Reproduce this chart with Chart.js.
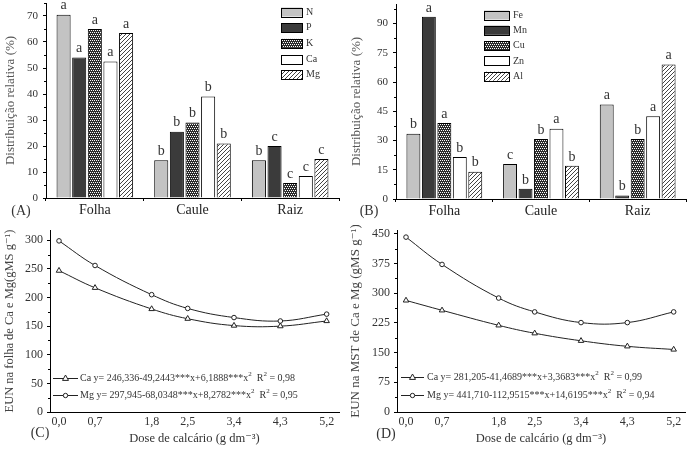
<!DOCTYPE html>
<html><head><meta charset="utf-8">
<script src="https://cdn.jsdelivr.net/npm/chart.js@4/dist/chart.umd.min.js"></script>
<style>
html,body{margin:0;padding:0;background:#fff;width:692px;height:451px;overflow:hidden}
.p{position:absolute}
canvas{display:block}
</style></head><body>
<div class="p" style="left:0;top:0"><canvas id="cA" width="346" height="225"></canvas></div>
<div class="p" style="left:346px;top:0"><canvas id="cB" width="346" height="225"></canvas></div>
<div class="p" style="left:0;top:225px"><canvas id="cC" width="346" height="226"></canvas></div>
<div class="p" style="left:346px;top:225px"><canvas id="cD" width="346" height="226"></canvas></div>
<script>
// ---------- DATA ----------
const categories = ['Folha', 'Caule', 'Raiz'];

// Panel A (macronutrients)
const macroNames = ['N', 'P', 'K', 'Ca', 'Mg'];
const valN  = [70.5, 14.5, 14.5];
const valP  = [54, 25.5, 20];
const valK  = [65, 29, 5.8];
const valCa = [52.5, 39, 8.5];
const valMg = [63.5, 21, 15];
const letN  = ['a', 'b', 'b'];
const letP  = ['a', 'b', 'c'];
const letK  = ['a', 'b', 'c'];
const letCa = ['a', 'b', 'c'];
const letMg = ['a', 'b', 'c'];
const ticksA = [0, 10, 20, 30, 40, 50, 60, 70];

// Panel B (micronutrients + Al)
const microNames = ['Fe', 'Mn', 'Cu', 'Zn', 'Al'];
const valFe = [33.5, 18, 48.5];
const valMn = [93.4, 5.2, 1.8];
const valCu = [39, 30.8, 30.8];
const valZn = [21.5, 36, 42.4];
const valAl = [14, 17, 69];
const letFe = ['b', 'c', 'a'];
const letMn = ['a', 'b', 'b'];
const letCu = ['a', 'b', 'b'];
const letZn = ['b', 'a', 'a'];
const letAl = ['b', 'b', 'a'];
const ticksB = [0, 15, 30, 45, 60, 75, 90];

// Panels C and D
const doses = [0, 0.7, 1.8, 2.5, 3.4, 4.3, 5.2];
const doseLabels = ['0,0', '0,7', '1,8', '2,5', '3,4', '4,3', '5,2'];
const cCa = [247, 217, 180, 163, 151, 150, 159];
const cMg = [299, 256, 205, 181, 165, 159, 171];
const dCa = [282, 257, 219, 199, 180, 166, 158];
const dMg = [442, 373, 288, 253, 226, 226, 253];
const ticksC = [0, 50, 100, 150, 200, 250, 300];
const ticksD = [0, 75, 150, 225, 300, 375, 450];
const eqCaC = ['Ca y= 246,336-49,2443***x+6,1888***x', '2', '  R', '2', ' = 0,98'];
const eqMgC = ['Mg y= 297,945-68,0348***x+8,2782***x', '2', '  R', '2', ' = 0,95'];
const eqCaD = ['Ca y= 281,205-41,4689***x+3,3683***x', '2', '  R', '2', ' = 0,99'];
const eqMgD = ['Mg y= 441,710-112,9515***x+14,6195***x', '2', '  R', '2', ' = 0,94'];

// ---------- STYLE HELPERS ----------
const FONT = "'Liberation Serif','Times New Roman','DejaVu Serif',serif";
const INK = '#222';

function makePattern(kind) {
  const c = document.createElement('canvas');
  c.width = 4; c.height = 4;
  const g = c.getContext('2d');
  if (kind === 'dots') {
    g.fillStyle = '#2c2c2c'; g.fillRect(0, 0, 4, 4);
    g.fillStyle = '#ffffff';
    g.fillRect(0, 0, 1, 1); g.fillRect(2, 0, 1, 1);
    g.fillRect(1, 2, 1, 1); g.fillRect(3, 2, 1, 1);
  } else {
    g.fillStyle = '#ffffff'; g.fillRect(0, 0, 4, 4);
    g.fillStyle = '#444444';
    for (let i = 0; i < 4; i++) g.fillRect(i, 3 - i, 1, 1);
  }
  return g.createPattern(c, 'repeat');
}
const fills = ['#c3c3c3', '#3b3b3b', makePattern('dots'), '#ffffff', makePattern('hatch')];

// letters above bars
function letterPlugin() {
  return {
    id: 'letters',
    afterDatasetsDraw(chart) {
      const ctx = chart.ctx;
      ctx.save();
      ctx.font = '14px ' + FONT;
      ctx.fillStyle = '#333';
      ctx.textAlign = 'center';
      ctx.textBaseline = 'bottom';
      chart.data.datasets.forEach((ds, i) => {
        chart.getDatasetMeta(i).data.forEach((el, j) => {
          ctx.fillText(ds.letters[j], el.x, el.y - 2);
        });
      });
      ctx.restore();
    }
  };
}

// box legend for bar charts
function boxLegendPlugin(o) {
  return {
    id: 'boxLegend',
    afterDraw(chart) {
      const ctx = chart.ctx;
      ctx.save();
      chart.data.datasets.forEach((ds, i) => {
        const yc = o.y0 + i * o.dy;
        ctx.fillStyle = ds.backgroundColor;
        ctx.fillRect(o.x, yc - o.h / 2, o.w, o.h);
        ctx.strokeStyle = '#000'; ctx.lineWidth = 1;
        ctx.strokeRect(Math.round(o.x) + 0.5, Math.round(yc - o.h / 2) + 0.5, o.w, o.h);
        ctx.fillStyle = '#333';
        ctx.font = '10px ' + FONT;
        ctx.textBaseline = 'middle'; ctx.textAlign = 'left';
        ctx.fillText(ds.label, o.x + o.w + 4, yc);
      });
      ctx.restore();
    }
  };
}

// equation legend for line charts
function eqLegendPlugin(o) {
  return {
    id: 'eqLegend',
    afterDraw(chart) {
      const ctx = chart.ctx;
      ctx.save();
      chart.data.datasets.forEach((ds, i) => {
        const y = o.rows[i];
        ctx.strokeStyle = INK; ctx.lineWidth = 1;
        ctx.beginPath(); ctx.moveTo(o.x0, y + 0.5); ctx.lineTo(o.x1, y + 0.5); ctx.stroke();
        const mx = (o.x0 + o.x1) / 2;
        ctx.fillStyle = '#fff';
        ctx.beginPath();
        if (ds.pointStyle === 'triangle') {
          const r = 3;
          ctx.moveTo(mx, y - r); ctx.lineTo(mx + r, y + r * 0.8); ctx.lineTo(mx - r, y + r * 0.8); ctx.closePath();
        } else {
          ctx.arc(mx, y + 0.5, 2.2, 0, Math.PI * 2);
        }
        ctx.fill(); ctx.stroke();
        let x = o.tx;
        ctx.fillStyle = '#333';
        ctx.textBaseline = 'middle'; ctx.textAlign = 'left';
        ds.eq.forEach((part, k) => {
          const sup = k % 2 === 1;
          ctx.font = (sup ? 7 : o.size) + 'px ' + FONT;
          ctx.fillText(part, x, sup ? y - 4 : y);
          x += ctx.measureText(part).width;
        });
      });
      ctx.restore();
    }
  };
}

// panel tag + minor ticks
function decoPlugin(o) {
  return {
    id: 'deco',
    afterDraw(chart) {
      const ctx = chart.ctx;
      const ys = chart.scales.y;
      ctx.save();
      ctx.strokeStyle = '#000'; ctx.lineWidth = 1;
      const t = o.majors;
      for (let i = 0; i < t.length; i++) {
        const step = i < t.length - 1 ? t[i + 1] - t[i] : t[i] - t[i - 1];
        const mid = t[i] + step / 2;
        if (mid > ys.max) continue;
        const py = Math.round(ys.getPixelForValue(mid)) + 0.5;
        ctx.beginPath(); ctx.moveTo(ys.right - 2, py); ctx.lineTo(ys.right, py); ctx.stroke();
      }
      ctx.fillStyle = '#333';
      ctx.font = '14px ' + FONT;
      ctx.textAlign = 'center'; ctx.textBaseline = 'middle';
      ctx.fillText(o.tag, o.tx, o.ty);
      ctx.restore();
    }
  };
}

function fixedY(width, ticks) {
  return {
    afterBuildTicks(s) { s.ticks = ticks.map(v => ({ value: v })); },
    afterFit(s) { s.width = width; s.paddingTop = 0; s.paddingBottom = 0; }
  };
}

function barChart(id, names, series, letters, yTicks, yMax, g, title, legend, tag) {
  const datasets = names.map((n, i) => ({
    label: n, data: series[i], letters: letters[i],
    backgroundColor: fills[i], borderColor: '#000', borderWidth: 1,
    barPercentage: 0.9, categoryPercentage: 0.8
  }));
  return new Chart(document.getElementById(id), {
    type: 'bar',
    data: { labels: categories, datasets },
    options: {
      responsive: false, animation: false,
      layout: { padding: { left: 0, top: g.top, right: g.W - g.right, bottom: 0 } },
      plugins: { legend: { display: false }, tooltip: { enabled: false } },
      scales: {
        x: {
          grid: { offset: true, drawOnChartArea: false, drawTicks: true, tickLength: 3, color: '#000' },
          border: { color: '#000', width: 1 },
          ticks: { font: { family: FONT, size: 14 }, color: '#222', padding: 1 },
          afterFit(s) { s.height = g.H - g.bottom; s.paddingLeft = 0; s.paddingRight = 0; }
        },
        y: Object.assign({
          min: 0, max: yMax,
          grid: { drawOnChartArea: false, drawTicks: true, tickLength: 3, color: '#000' },
          border: { color: '#000', width: 1 },
          ticks: { font: { family: FONT, size: 11 }, color: '#333', padding: 5 },
          title: { display: true, text: title, font: { family: FONT, size: 13 }, color: '#555', padding: { top: 3, bottom: 0 } }
        }, fixedY(g.left, yTicks))
      }
    },
    plugins: [letterPlugin(), boxLegendPlugin(legend), decoPlugin({ majors: yTicks, tag: tag.text, tx: tag.x, ty: tag.y })]
  });
}

function lineChart(id, sCa, sMg, eqCa, eqMg, yTicks, yMax, g, title, legend, tag) {
  const pts = arr => arr.map((v, i) => ({ x: doses[i], y: v }));
  const common = { borderColor: INK, borderWidth: 1, pointBackgroundColor: '#fff', pointBorderColor: INK, pointBorderWidth: 1, tension: 0.4, fill: false };
  return new Chart(document.getElementById(id), {
    type: 'line',
    data: {
      datasets: [
        Object.assign({ label: 'Ca', data: pts(sCa), eq: eqCa, pointStyle: 'triangle', pointRadius: 3.2 }, common),
        Object.assign({ label: 'Mg', data: pts(sMg), eq: eqMg, pointStyle: 'circle', pointRadius: 2.3 }, common)
      ]
    },
    options: {
      responsive: false, animation: false,
      layout: { padding: { left: 0, top: g.top, right: g.W - g.right, bottom: 0 } },
      plugins: { legend: { display: false }, tooltip: { enabled: false } },
      scales: {
        x: {
          type: 'linear', min: g.xmin, max: g.xmax,
          afterBuildTicks(s) { s.ticks = doses.map(v => ({ value: v })); },
          afterFit(s) { s.height = g.H - g.bottom; s.paddingLeft = 0; s.paddingRight = 0; },
          grid: { drawOnChartArea: false, drawTicks: false, color: '#000' },
          border: { color: '#000', width: 1 },
          ticks: { font: { family: FONT, size: 12 }, color: '#333', padding: 3, maxRotation: 0, autoSkip: false,
                   callback: (v, i) => doseLabels[i] },
          title: { display: true, text: 'Dose de calcário (g dm⁻³)', font: { family: FONT, size: 12.5 }, color: '#333', padding: { top: 0, bottom: 5 } }
        },
        y: Object.assign({
          min: 0, max: yMax,
          grid: { drawOnChartArea: false, drawTicks: true, tickLength: 3, color: '#000' },
          border: { color: '#000', width: 1 },
          ticks: { font: { family: FONT, size: 12 }, color: '#333', padding: 4 },
          title: { display: true, text: title, font: { family: FONT, size: g.titleSize }, color: '#444', padding: { top: 2, bottom: 0 } }
        }, fixedY(g.left, yTicks))
      }
    },
    plugins: [eqLegendPlugin(legend), decoPlugin({ majors: yTicks, tag: tag.text, tx: tag.x, ty: tag.y })]
  });
}

barChart('cA', macroNames, [valN, valP, valK, valCa, valMg], [letN, letP, letK, letCa, letMg],
  ticksA, 75, { W: 346, H: 225, left: 46, right: 339, top: 3, bottom: 198 },
  'Distribuição relativa (%)', { x: 281, y0: 12, dy: 15.7, w: 21, h: 9 }, { text: '(A)', x: 21, y: 211 });

barChart('cB', microNames, [valFe, valMn, valCu, valZn, valAl], [letFe, letMn, letCu, letZn, letAl],
  ticksB, 100, { W: 346, H: 225, left: 50, right: 340, top: 4, bottom: 199 },
  'Distribuição relativa (%)', { x: 138, y0: 15, dy: 15.3, w: 25, h: 9 }, { text: '(B)', x: 23, y: 211 });

lineChart('cC', cCa, cMg, eqCaC, eqMgC, ticksC, 318,
  { W: 346, H: 226, left: 50, right: 339, top: 2, bottom: 187, xmin: -0.175, xmax: 5.44, titleSize: 12.5 },
  'EUN na folha de Ca e Mg(gMS g⁻¹)', { x0: 53, x1: 78, tx: 80, size: 10, rows: [153, 170] }, { text: '(C)', x: 40, y: 208 });

lineChart('cD', dCa, dMg, eqCaD, eqMgD, ticksD, 460,
  { W: 346, H: 226, left: 51, right: 339, top: 2, bottom: 187, xmin: -0.175, xmax: 5.42, titleSize: 13 },
  'EUN na MST de Ca e Mg (gMS g⁻¹)', { x0: 55, x1: 78, tx: 81, size: 10, rows: [152, 170] }, { text: '(D)', x: 40, y: 209 });
</script>
</body></html>
